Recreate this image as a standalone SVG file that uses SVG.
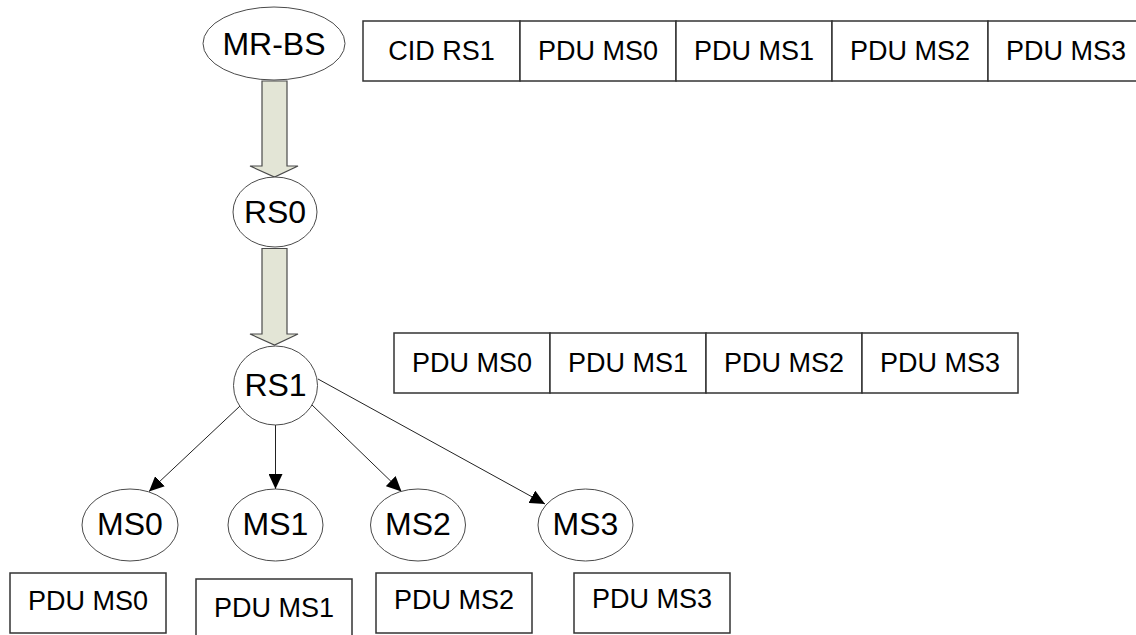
<svg xmlns="http://www.w3.org/2000/svg" width="1136" height="635" viewBox="0 0 1136 635">
<style>
  .node ellipse { fill: #ffffff; stroke: #4a4a4a; stroke-width: 1; }
  .cell rect { fill: #ffffff; stroke: #333333; stroke-width: 1.5; }
  text { font-family: "Liberation Sans", Arial, sans-serif; fill: #000000; text-anchor: middle; }
  .lbl { font-size: 32px; }
  .ctext { font-size: 27px; }
  .fat { fill: #e3e5d6; stroke: #4a4a4a; stroke-width: 1.2; }
  .thin { stroke: #222222; stroke-width: 1; fill: none; marker-end: url(#ah); }
</style>
<defs>
  <marker id="ah" markerUnits="userSpaceOnUse" markerWidth="16" markerHeight="14" refX="15" refY="7" orient="auto">
    <path d="M0,0 L15,7 L0,14 Z" fill="#000000"/>
  </marker>
</defs>
<rect x="0" y="0" width="1136" height="635" fill="#ffffff"/>

<g id="connectors">
  <polygon class="fat" points="262,81 287,81 287,166 298,166 274.5,177 250,166 262,166"/>
  <polygon class="fat" points="262,248.5 287,248.5 287,334 298,334 274.5,345 250,334 262,334"/>
  <line class="thin" x1="240" y1="406" x2="149" y2="491.5"/>
  <line class="thin" x1="275.5" y1="425" x2="275.5" y2="489"/>
  <line class="thin" x1="311" y1="404" x2="401.5" y2="491.5"/>
  <line class="thin" x1="318" y1="379" x2="545" y2="504"/>
</g>

<g id="MR-BS" class="node">
  <ellipse cx="274" cy="43.5" rx="71" ry="36.5"/>
  <text class="lbl" x="274" y="55">MR-BS</text>
</g>
<g id="RS0" class="node">
  <ellipse cx="275" cy="212" rx="42" ry="35"/>
  <text class="lbl" x="275" y="223">RS0</text>
</g>
<g id="RS1" class="node">
  <ellipse cx="275.5" cy="385.5" rx="42" ry="39.5"/>
  <text class="lbl" x="275.5" y="396">RS1</text>
</g>
<g id="MS0" class="node">
  <ellipse cx="130" cy="525" rx="48" ry="36"/>
  <text class="lbl" x="130" y="535">MS0</text>
</g>
<g id="MS1" class="node">
  <ellipse cx="275.5" cy="525" rx="47.5" ry="36"/>
  <text class="lbl" x="275.5" y="535">MS1</text>
</g>
<g id="MS2" class="node">
  <ellipse cx="418" cy="525" rx="47.5" ry="36"/>
  <text class="lbl" x="418" y="535">MS2</text>
</g>
<g id="MS3" class="node">
  <ellipse cx="585.5" cy="525" rx="47.5" ry="36"/>
  <text class="lbl" x="585.5" y="535">MS3</text>
</g>

<g id="frame-top" class="cell">
  <rect x="363" y="21" width="157" height="60"/>
  <rect x="520" y="21" width="156" height="60"/>
  <rect x="676" y="21" width="156" height="60"/>
  <rect x="832" y="21" width="156" height="60"/>
  <rect x="988" y="21" width="156" height="60"/>
  <text class="ctext" x="441.5" y="60">CID RS1</text>
  <text class="ctext" x="598" y="60">PDU MS0</text>
  <text class="ctext" x="754" y="60">PDU MS1</text>
  <text class="ctext" x="910" y="60">PDU MS2</text>
  <text class="ctext" x="1066" y="60">PDU MS3</text>
</g>

<g id="frame-mid" class="cell">
  <rect x="394" y="333" width="156" height="60"/>
  <rect x="550" y="333" width="156" height="60"/>
  <rect x="706" y="333" width="156" height="60"/>
  <rect x="862" y="333" width="156" height="60"/>
  <text class="ctext" x="472" y="372">PDU MS0</text>
  <text class="ctext" x="628" y="372">PDU MS1</text>
  <text class="ctext" x="784" y="372">PDU MS2</text>
  <text class="ctext" x="940" y="372">PDU MS3</text>
</g>

<g id="pdu-ms0" class="cell">
  <rect x="10" y="573" width="156" height="60"/>
  <text class="ctext" x="88" y="610">PDU MS0</text>
</g>
<g id="pdu-ms1" class="cell">
  <rect x="196" y="579" width="156" height="60"/>
  <text class="ctext" x="274" y="617">PDU MS1</text>
</g>
<g id="pdu-ms2" class="cell">
  <rect x="376" y="573" width="156" height="60"/>
  <text class="ctext" x="454" y="609">PDU MS2</text>
</g>
<g id="pdu-ms3" class="cell">
  <rect x="574" y="573" width="156" height="60"/>
  <text class="ctext" x="652" y="608">PDU MS3</text>
</g>
</svg>
